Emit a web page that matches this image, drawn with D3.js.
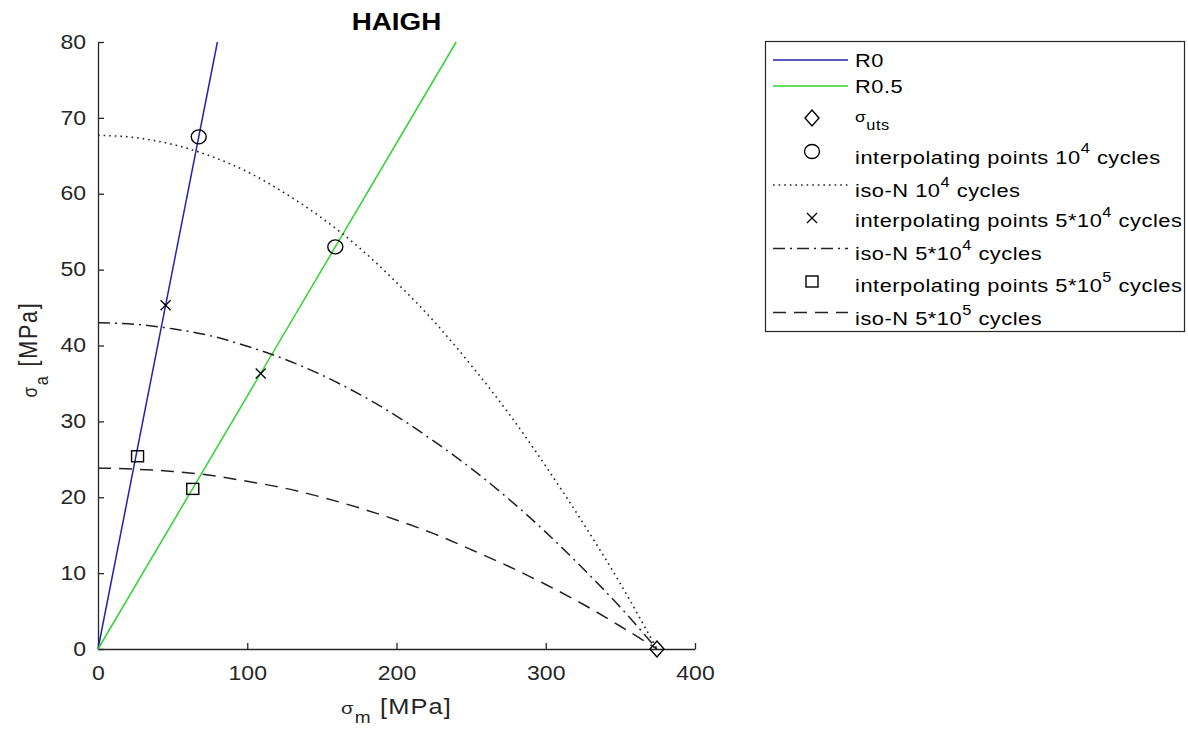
<!DOCTYPE html>
<html>
<head>
<meta charset="utf-8">
<script src="https://cdn.jsdelivr.net/npm/d3@7"></script>
<style>
  body { margin: 0; background: #fff; }
  svg { display: block; }
  text { white-space: pre; }
</style>
</head>
<body>
<svg id="chart" width="1188" height="730"></svg>
<script>
// ---- axis ticks ----
const xTicks = [0, 100, 200, 300, 400];
const yTicks = [0, 10, 20, 30, 40, 50, 60, 70, 80];

// ---- constant-R load lines (sigma_m, sigma_a) ----
const r0Sm = [0, 80];
const r0Sa = [0, 80];
const r05Sm = [0, 240];
const r05Sa = [0, 80];

// ---- ultimate tensile strength ----
const utsSm = [374.5];
const utsSa = [0];

// ---- interpolating points ----
const pts1e4Sm = [67.5, 159];
const pts1e4Sa = [67.5, 53];
const pts5e4Sm = [45.3, 109];
const pts5e4Sa = [45.3, 36.3];
const pts5e5Sm = [26.5, 63.5];
const pts5e5Sa = [25.4, 21.1];

// ---- iso-N curves ----
const isoSm    = [0, 25, 50, 75, 100, 125, 150, 175, 200, 225, 250, 275, 300, 325, 350, 374.5];
const iso1e4Sa = [67.7, 67.4, 66.5, 65.0, 62.9, 60.1, 56.8, 52.9, 48.3, 43.2, 37.4, 31.1, 24.1, 16.6, 8.6, 0];
const iso5e4Sa = [43.0, 42.8, 42.2, 41.3, 39.9, 38.2, 36.1, 33.6, 30.7, 27.4, 23.8, 19.8, 15.4, 10.6, 5.5, 0];
const iso5e5Sa = [23.85, 23.7, 23.4, 22.9, 22.1, 21.2, 20.0, 18.6, 17.0, 15.2, 13.1, 10.9, 8.5, 5.9, 3.0, 0];

// ---- legend entries: [text, mode] runs ----
const legendLabels = [
  [["R0", ""]],
  [["R0.5", ""]],
  [["σ", "sym"], ["uts", "sub"]],
  [["interpolating points 10", ""], ["4", "sup"], [" cycles", ""]],
  [["iso-N 10", ""], ["4", "sup"], [" cycles", ""]],
  [["interpolating points 5*10", ""], ["4", "sup"], [" cycles", ""]],
  [["iso-N 5*10", ""], ["4", "sup"], [" cycles", ""]],
  [["interpolating points 5*10", ""], ["5", "sup"], [" cycles", ""]],
  [["iso-N 5*10", ""], ["5", "sup"], [" cycles", ""]]
];

// ---------------------------------------------------------------
const FONT = "'Liberation Sans', Arial, Helvetica, sans-serif";
const AXC = "#262626";
const SX = 1.18;           // horizontal glyph stretch
const BLUE = "#2222b0";
const GREEN = "#2fd42f";

const svg = d3.select("#chart");
const x = d3.scaleLinear().domain([0, 400]).range([98, 695]);
const y = d3.scaleLinear().domain([0, 80]).range([649, 42]);

function zip(a, b) { return a.map((v, i) => [v, b[i]]); }

// write runs of normal / superscript / subscript text into a <text>
function addRuns(t, runs, fs) {
  let shift = 0;
  runs.forEach(([s, mode]) => {
    let target = 0, size = fs;
    if (mode === "sup") { target = -0.55 * fs; size = fs * 0.75; }
    if (mode === "sub") { target = 0.42 * fs; size = fs * 0.75; }
    if (mode === "sym") { size = fs * 0.8; }
    t.append("tspan").attr("dy", target - shift).attr("font-size", size).text(s);
    shift = target;
  });
}

// ---- axes ----
const xAxis = d3.axisBottom(x).tickValues(xTicks).tickSizeInner(-6).tickSizeOuter(0).tickPadding(17);
const yAxis = d3.axisLeft(y).tickValues(yTicks).tickSizeInner(-6).tickSizeOuter(0).tickPadding(12);

const gx = svg.append("g").attr("transform", `translate(0,${y(0)})`).call(xAxis);
const gy = svg.append("g").attr("transform", `translate(${x(0)},0)`).call(yAxis);

[gx, gy].forEach(g => {
  g.select(".domain").attr("stroke", AXC).attr("stroke-width", 1.3);
  g.selectAll(".tick line").attr("stroke", AXC).attr("stroke-width", 1.3);
  g.selectAll(".tick text")
    .attr("fill", AXC)
    .attr("font-family", FONT)
    .attr("font-size", 19.5);
});
gx.selectAll(".tick text").attr("transform", `scale(${SX},1)`);
gy.selectAll(".tick text")
  .attr("x", -12 / SX)
  .attr("transform", `scale(${SX},1)`);

// ---- load lines ----
const line = d3.line().x(d => x(d[0])).y(d => y(d[1]));
const curve = d3.line().x(d => x(d[0])).y(d => y(d[1])).curve(d3.curveMonotoneX);

const plot = svg.append("g").attr("fill", "none");

plot.append("path").datum(zip(r0Sm, r0Sa)).attr("d", line)
  .attr("stroke", BLUE).attr("stroke-width", 1.5);
plot.append("path").datum(zip(r05Sm, r05Sa)).attr("d", line)
  .attr("stroke", GREEN).attr("stroke-width", 1.5);

// ---- marker drawers ----
function diamond(g, cx, cy) {
  g.append("path")
    .attr("d", `M${cx},${cy - 8}L${cx + 7},${cy}L${cx},${cy + 8}L${cx - 7},${cy}Z`)
    .attr("fill", "none").attr("stroke", "#000").attr("stroke-width", 1.4);
}
function ring(g, cx, cy) {
  g.append("ellipse").attr("cx", cx).attr("cy", cy).attr("rx", 7.5).attr("ry", 7)
    .attr("fill", "none").attr("stroke", "#000").attr("stroke-width", 1.4);
}
function cross(g, cx, cy) {
  g.append("path")
    .attr("d", `M${cx - 5},${cy - 5}L${cx + 5},${cy + 5}M${cx - 5},${cy + 5}L${cx + 5},${cy - 5}`)
    .attr("stroke", "#000").attr("stroke-width", 1.3);
}
function square(g, cx, cy) {
  g.append("rect").attr("x", cx - 6).attr("y", cy - 5.5).attr("width", 12).attr("height", 11)
    .attr("fill", "none").attr("stroke", "#000").attr("stroke-width", 1.4);
}

const DOT = "1.6,4";
const DASHDOT = "12,5,2,5";
const DASH = "13,8";

// uts
zip(utsSm, utsSa).forEach(d => diamond(plot, x(d[0]), y(d[1])));
// 10^4
zip(pts1e4Sm, pts1e4Sa).forEach(d => ring(plot, x(d[0]), y(d[1])));
plot.append("path").datum(zip(isoSm, iso1e4Sa)).attr("d", curve)
  .attr("stroke", "#222").attr("stroke-width", 1.6).attr("stroke-dasharray", DOT);
// 5*10^4
zip(pts5e4Sm, pts5e4Sa).forEach(d => cross(plot, x(d[0]), y(d[1])));
plot.append("path").datum(zip(isoSm, iso5e4Sa)).attr("d", curve)
  .attr("stroke", "#222").attr("stroke-width", 1.5).attr("stroke-dasharray", DASHDOT);
// 5*10^5
zip(pts5e5Sm, pts5e5Sa).forEach(d => square(plot, x(d[0]), y(d[1])));
plot.append("path").datum(zip(isoSm, iso5e5Sa)).attr("d", curve)
  .attr("stroke", "#222").attr("stroke-width", 1.5).attr("stroke-dasharray", DASH);

// ---- title ----
svg.append("text")
  .attr("transform", `translate(${(x(0) + x(400)) / 2},29.5) scale(1.16,1)`)
  .attr("text-anchor", "middle").attr("font-family", FONT)
  .attr("font-weight", "bold").attr("font-size", 24).attr("fill", "#000")
  .text("HAIGH");

// ---- axis labels ----
const xl = svg.append("text")
  .attr("transform", `translate(${(x(0) + x(400)) / 2},714) scale(${SX},1)`)
  .attr("text-anchor", "middle").attr("font-family", FONT)
  .attr("letter-spacing", 1).attr("font-size", 21.5).attr("fill", AXC);
addRuns(xl, [["σ", "sym"], ["m", "sub"], [" [MPa]", ""]], 21.5);

const yl = svg.append("text")
  .attr("transform", `translate(37,${(y(0) + y(80)) / 2 + 4}) rotate(-90) scale(1,${SX})`)
  .attr("text-anchor", "middle").attr("font-family", FONT)
  .attr("letter-spacing", 1.8).attr("font-size", 21.5).attr("fill", AXC);
addRuns(yl, [["σ", "sym"], ["a", "sub"], [" [MPa]", ""]], 21.5);

// ---- legend ----
const leg = svg.append("g");
leg.append("rect").attr("x", 765.5).attr("y", 41.5).attr("width", 419).attr("height", 290)
  .attr("fill", "#fff").attr("stroke", AXC).attr("stroke-width", 1.2);

const rowLine = [60, 86, 118, 151.5, 185, 218, 248.5, 281.5, 312.5];
const rowBase = [66.7, 93, 122, 163.5, 196.7, 227, 260, 292, 325];
const lx0 = 773, lx1 = 848, mx = 812, tx = 855;

legendLabels.forEach((runs, i) => {
  const t = leg.append("text")
    .attr("transform", `translate(${tx},${rowBase[i]}) scale(${SX},1)`)
    .attr("font-family", FONT).attr("font-size", 18.5)
    .attr("letter-spacing", 0.45).attr("fill", "#000");
  addRuns(t, runs, 18.5);
});

function legLine(i, color, dash, w) {
  const p = leg.append("line").attr("x1", lx0).attr("x2", lx1)
    .attr("y1", rowLine[i]).attr("y2", rowLine[i])
    .attr("stroke", color).attr("stroke-width", w);
  if (dash) p.attr("stroke-dasharray", dash);
}
legLine(0, BLUE, null, 1.3);
legLine(1, GREEN, null, 1.3);
diamond(leg, mx, rowLine[2]);
ring(leg, mx, rowLine[3]);
legLine(4, "#222", DOT, 1.4);
cross(leg, mx, rowLine[5]);
legLine(6, "#222", DASHDOT, 1.3);
square(leg, mx, rowLine[7]);
legLine(8, "#222", DASH, 1.3);
</script>
</body>
</html>
